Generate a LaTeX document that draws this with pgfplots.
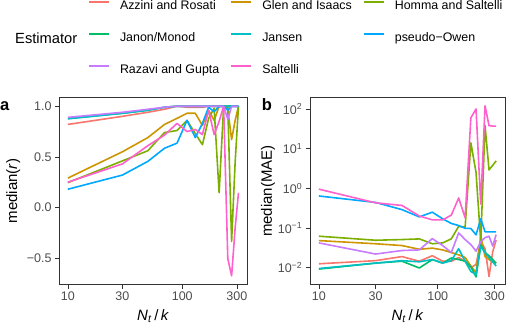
\documentclass[border=0pt]{standalone}
\usepackage{fontspec}
\setmainfont{Liberation Sans}
\usepackage{pgfplots}
\usepackage{pgfplotstable}
\pgfplotsset{compat=1.18}

\definecolor{cAR}{HTML}{F8766D}
\definecolor{cGI}{HTML}{CD9600}
\definecolor{cHS}{HTML}{7CAE00}
\definecolor{cJM}{HTML}{00BE67}
\definecolor{cJA}{HTML}{00BFC4}
\definecolor{cPO}{HTML}{00A9FF}
\definecolor{cRG}{HTML}{C77CFF}
\definecolor{cSA}{HTML}{FF61CC}
\definecolor{tickgray}{HTML}{4D4D4D}
\definecolor{framegray}{HTML}{333333}

% median correlation (panel a)
\pgfplotstableread{
x   AR    GI    HS     JM    JA    PO    RG    SA
10  0.82  0.29  0.245  0.88  0.875 0.18  0.89  0.25
30  0.90  0.55  0.46   0.93  0.93  0.32  0.94  0.43
50  0.94  0.69  0.56   0.96  0.96  0.455 0.97  0.61
70  0.97  0.82  0.74   0.99  0.99  0.585 0.99  0.715
90  1.0   0.88  0.76   1.0   1.0   0.635 1.0   0.83
110 0.99  0.93  0.86   1.0   1.0   0.86  1.0   0.75
130 0.99  0.93  0.73   1.0   1.0   0.69  1.0   0.77
150 0.99  0.81  0.62   1.0   1.0   0.83  1.0   0.72
170 1.0   0.96  0.88   1.0   1.0   0.99  1.0   0.96
190 1.0   0.86  0.98   1.0   1.0   0.945 1.0   0.72
210 1.0   1.0   0.145  1.0   1.0   1.0   1.0   0.85
230 1.0   1.0   1.0    1.0   1.0   1.0   1.0   1.0
250 1.0   0.97  0.99   1.0   1.0   0.96  0.87  -0.505
270 1.0   0.67  -0.335 1.0   1.0   1.0   1.0   -0.675
290 1.0   0.86  0.45   1.0   1.0   1.0   1.0   -0.2
310 1.0   1.0   1.0    1.0   1.0   1.0   1.0   0.145
}\rdata

% median MAE (panel b)
\pgfplotstableread{
x   AR     GI     HS    JM     JA     PO    RG    SA
10  0.0125 0.048  0.062 0.0092 0.0095 0.64  0.042 0.95
30  0.015  0.040  0.049 0.013  0.013  0.44  0.022 0.43
50  0.019  0.036  0.051 0.0145 0.015  0.29  0.027 0.37
70  0.0145 0.029  0.053 0.0098 0.014  0.19  0.028 0.20
90  0.020  0.031  0.040 0.016  0.016  0.25  0.054 0.16
110 0.0145 0.028  0.042 0.013  0.013  0.17  0.036 0.16
130 0.0145 0.024  0.053 0.0175 0.015  0.13  0.024 0.21
150 0.018  0.021  0.11  0.016  0.030  0.115 0.075 0.57
170 0.0145 0.018  0.105 0.0145 0.0145 0.098 0.051 0.18
190 0.010  0.011  14    0.0105 0.008  0.097 0.038 60
210 0.012  0.0075 2.5   0.0058 0.0067 0.067 0.026 100
230 0.045  0.063  0.045 0.038  0.034  0.17  0.045 0.40
250 0.030  0.019  38    0.024  0.024  0.08  0.057 120
270 0.006  0.016  2.9   0.020  0.018  0.08  0.062 38
290 0.025  0.014  3.8   0.016  0.014  0.08  0.035 37
310 0.050  0.013  4.9   0.013  0.011  0.08  0.068 37
}\maedata

\pgfplotsset{
  legend image code/.code={\draw[#1, line width=2pt] (0pt,4.5pt) -- (20pt,4.5pt);},
  every axis plot/.append style={line width=1.6pt, line join=round},
}

\begin{document}
\begin{tikzpicture}
\useasboundingbox (0,0) rectangle (507pt,-325pt);

\begin{axis}[
  scale only axis,
  at={(59.3pt,-97.7pt)}, anchor=north west,
  width=187.7pt, height=186.6pt,
  xmode=log, xmin=8.42, xmax=368,
  xtick={10,30,100,300}, xticklabels={10,30,100,300},
  ymin=-0.759, ymax=1.084,
  ytick={-0.5,0,0.5,1}, yticklabels={−0.5,0.0,0.5,1.0},
  xminorticks=false, yminorticks=false,
  tick pos=left, tick align=outside, major tick length=4.3pt,
  tick style={color=framegray, line width=0.6pt},
  axis line style={framegray, line width=0.8pt},
  tick label style={font=\fontsize{12.5}{14}\selectfont, text=tickgray},
  label style={font=\fontsize{15}{18}\selectfont},
  xlabel style={at={(axis description cs:0.5,0)}, anchor=base, yshift=-36.4pt},
  xlabel={\textit{N}\textsubscript{\textit{t}}\,/\,\textit{k}},
  ylabel style={at={(axis description cs:-0.225,0.5)}, rotate=0, anchor=base},
  ylabel={median(\textit{r})},
  axis on top,
  legend columns=3,
  legend cell align=left,
  legend style={at={(axis description cs:0.153,1.5209)}, anchor=north west,
    draw=none, fill=none, inner sep=0pt, outer sep=0pt,
    font=\fontsize{12.4}{14}\selectfont, row sep=20pt,
    nodes={inner sep=0pt, outer sep=0pt, text height=9pt, text depth=3pt},
    /tikz/every odd column/.append style={column sep=10pt},
    /tikz/every even column/.append style={column sep=11pt}},
]
\addplot[cAR] table[x=x, y=AR] {\rdata};
\addplot[cGI] table[x=x, y=GI] {\rdata};
\addplot[cHS] table[x=x, y=HS] {\rdata};
\addplot[cJM] table[x=x, y=JM] {\rdata};
\addplot[cJA] table[x=x, y=JA] {\rdata};
\addplot[cPO] table[x=x, y=PO] {\rdata};
\addplot[cRG] table[x=x, y=RG] {\rdata};
\addplot[cSA] table[x=x, y=SA] {\rdata};
\legend{Azzini and Rosati, Glen and Isaacs, Homma and Saltelli,
  Janon/Monod, Jansen, pseudo−Owen, Razavi and Gupta, Saltelli}
\end{axis}

\begin{axis}[
  scale only axis,
  at={(310pt,-97.7pt)}, anchor=north west,
  width=195pt, height=186.6pt,
  xmode=log, xmin=8.42, xmax=368,
  xtick={10,30,100,300}, xticklabels={10,30,100,300},
  ymode=log, ymin=0.0038, ymax=192,
  ytick={0.01,0.1,1,10,100},
  yticklabels={10\textsuperscript{−2},10\textsuperscript{−1},10\textsuperscript{0},10\textsuperscript{1},10\textsuperscript{2}},
  xminorticks=false, yminorticks=false,
  tick pos=left, tick align=outside, major tick length=4.3pt,
  tick style={color=framegray, line width=0.6pt},
  axis line style={framegray, line width=0.8pt},
  tick label style={font=\fontsize{12.5}{14}\selectfont, text=tickgray},
  label style={font=\fontsize{15}{18}\selectfont},
  xlabel style={at={(axis description cs:0.5,0)}, anchor=base, yshift=-36.4pt},
  xlabel={\textit{N}\textsubscript{\textit{t}}\,/\,\textit{k}},
  ylabel style={at={(axis description cs:-0.195,0.5)}, rotate=0, anchor=base},
  ylabel={median(MAE)},
  axis on top,
]
\addplot[cAR] table[x=x, y=AR] {\maedata};
\addplot[cGI] table[x=x, y=GI] {\maedata};
\addplot[cHS] table[x=x, y=HS] {\maedata};
\addplot[cJM] table[x=x, y=JM] {\maedata};
\addplot[cJA] table[x=x, y=JA] {\maedata};
\addplot[cPO] table[x=x, y=PO] {\maedata};
\addplot[cRG] table[x=x, y=RG] {\maedata};
\addplot[cSA] table[x=x, y=SA] {\maedata};
\end{axis}

\node[anchor=base west, inner sep=0pt, font=\fontsize{14.7}{17}\selectfont] at (15pt,-43.3pt) {Estimator};
\node[anchor=base west, inner sep=0pt, font=\bfseries\fontsize{16.5}{19}\selectfont] at (0pt,-110pt) {a};
\node[anchor=base west, inner sep=0pt, font=\bfseries\fontsize{16.5}{19}\selectfont] at (261.7pt,-110pt) {b};
\end{tikzpicture}
\end{document}
